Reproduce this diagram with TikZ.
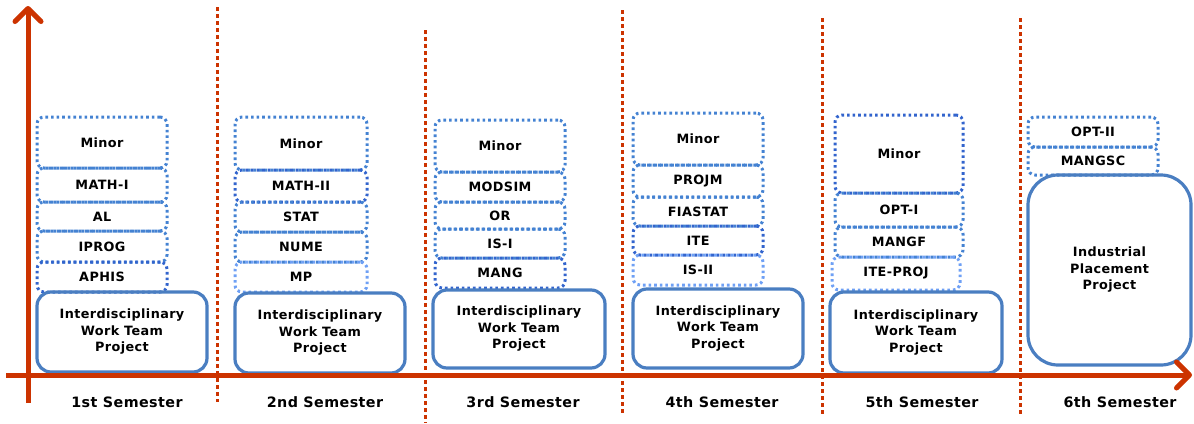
\documentclass[tikz,border=0pt]{standalone}
\usepackage{fontspec}
\usetikzlibrary{arrows.meta}
\newfontfamily\bfam{DejaVu Sans}[LetterSpace=3]
\definecolor{axred}{RGB}{204,51,0}
\definecolor{solB}{RGB}{74,126,193}
\definecolor{medB}{RGB}{68,130,210}
\definecolor{drkB}{RGB}{50,100,205}
\definecolor{ltB}{RGB}{110,160,245}
\tikzset{
  dbox/.style={draw=#1, line width=3pt, dash pattern=on 2.6pt off 3pt,
    rounded corners=7pt, inner sep=0pt, align=center,
    font=\bfam\bfseries\fontsize{12.8}{16.5}\selectfont},
  sbox/.style={draw=solB, line width=3.2pt, rounded corners=14pt, inner sep=0pt,
    align=center, font=\bfam\bfseries\fontsize{12.8}{16.5}\selectfont},
  semlab/.style={font=\bfam\bfseries\fontsize{14.3}{16}\selectfont, inner sep=0pt},
  axisline/.style={draw=axred, line width=5pt,
    -{Straight Barb[length=13pt,width=26pt,round]}},
  sepline/.style={draw=axred, line width=3pt, dash pattern=on 3.5pt off 3.5pt}
}
\begin{document}
\begin{tikzpicture}[x=1pt,y=-1pt]
\useasboundingbox (0,0) rectangle (1194,423);
% separators
\coordinate (p1t) at (217,7);   \coordinate (p1b) at (217,402);
\coordinate (p2t) at (425,30);  \coordinate (p2b) at (425,423);
\coordinate (p3t) at (622,10);  \coordinate (p3b) at (622,414);
\coordinate (p4t) at (822,18);  \coordinate (p4b) at (822,414);
\coordinate (p5t) at (1020,18); \coordinate (p5b) at (1020,414);
\foreach \i in {1,...,5} \draw[sepline] (p\i t) -- (p\i b);

% semester 1
\node[dbox=medB, minimum width=130, minimum height=51] (s1a) at (102,142.5) {Minor};
\node[dbox=medB, minimum width=130, minimum height=34] (s1b) at (102,185) {MATH-I};
\node[dbox=medB, minimum width=130, minimum height=29] (s1c) at (102,216.5) {AL};
\node[dbox=medB, minimum width=130, minimum height=31] (s1d) at (102,246.5) {IPROG};
\node[dbox=drkB, minimum width=130, minimum height=30] (s1e) at (102,277) {APHIS};
\node[sbox, minimum width=170, minimum height=80] (s1p) at (122,332) {Interdisciplinary\\Work Team\\Project};

% semester 2
\node[dbox=medB, minimum width=132, minimum height=53] (s2a) at (301,143.5) {Minor};
\node[dbox=drkB, minimum width=132, minimum height=32] (s2b) at (301,186) {MATH-II};
\node[dbox=medB, minimum width=132, minimum height=30] (s2c) at (301,217) {STAT};
\node[dbox=medB, minimum width=132, minimum height=30] (s2d) at (301,247) {NUME};
\node[dbox=ltB, minimum width=132, minimum height=30] (s2e) at (301,277) {MP};
\node[sbox, minimum width=170, minimum height=80] (s2p) at (320,333) {Interdisciplinary\\Work Team\\Project};

% semester 3
\node[dbox=medB, minimum width=130, minimum height=52] (s3a) at (500,146) {Minor};
\node[dbox=medB, minimum width=130, minimum height=30] (s3b) at (500,187) {MODSIM};
\node[dbox=medB, minimum width=130, minimum height=27] (s3c) at (500,215.5) {OR};
\node[dbox=medB, minimum width=130, minimum height=29] (s3d) at (500,243.5) {IS-I};
\node[dbox=drkB, minimum width=130, minimum height=30] (s3e) at (500,273) {MANG};
\node[sbox, minimum width=172, minimum height=78] (s3p) at (519,329) {Interdisciplinary\\Work Team\\Project};

% semester 4
\node[dbox=medB, minimum width=130, minimum height=52] (s4a) at (698,139) {Minor};
\node[dbox=medB, minimum width=130, minimum height=32] (s4b) at (698,181) {PROJM};
\node[dbox=medB, minimum width=130, minimum height=29] (s4c) at (698,211.5) {FIASTAT};
\node[dbox=drkB, minimum width=130, minimum height=29] (s4d) at (698,240.5) {ITE};
\node[dbox=ltB, minimum width=130, minimum height=30] (s4e) at (698,270) {IS-II};
\node[sbox, minimum width=170, minimum height=79] (s4p) at (718,328.5) {Interdisciplinary\\Work Team\\Project};

% semester 5
\node[dbox=drkB, minimum width=128, minimum height=78] (s5a) at (899,154) {Minor};
\node[dbox=medB, minimum width=128, minimum height=34] (s5b) at (899,210) {OPT-I};
\node[dbox=medB, minimum width=128, minimum height=30] (s5c) at (899,242) {MANGF};
\node[dbox=ltB, minimum width=128, minimum height=33] (s5d) at (896,273.5) {ITE-PROJ};
\node[sbox, minimum width=172, minimum height=81] (s5p) at (916,332.5) {Interdisciplinary\\Work Team\\Project};

% semester 6
\node[dbox=medB, minimum width=130, minimum height=30] (s6a) at (1093,132) {OPT-II};
\node[dbox=medB, minimum width=130, minimum height=28] (s6b) at (1093,161) {MANGSC};
\node[sbox, rounded corners=30pt, minimum width=163, minimum height=190] (s6p) at (1109.5,270) {Industrial\\Placement\\Project};

% axes
\coordinate (yb) at (28,403); \coordinate (yt) at (28,6);
\coordinate (xl) at (6,375);  \coordinate (xr) at (1192,375);
\draw[axisline] (yb) -- (yt);
\draw[axisline] (xl) -- (xr);

% semester labels
\node[semlab] (l1) at (127,402) {1st Semester};
\node[semlab] (l2) at (325,402) {2nd Semester};
\node[semlab] (l3) at (523,402) {3rd Semester};
\node[semlab] (l4) at (722,402) {4th Semester};
\node[semlab] (l5) at (922,402) {5th Semester};
\node[semlab] (l6) at (1120,402) {6th Semester};
\end{tikzpicture}
\end{document}
